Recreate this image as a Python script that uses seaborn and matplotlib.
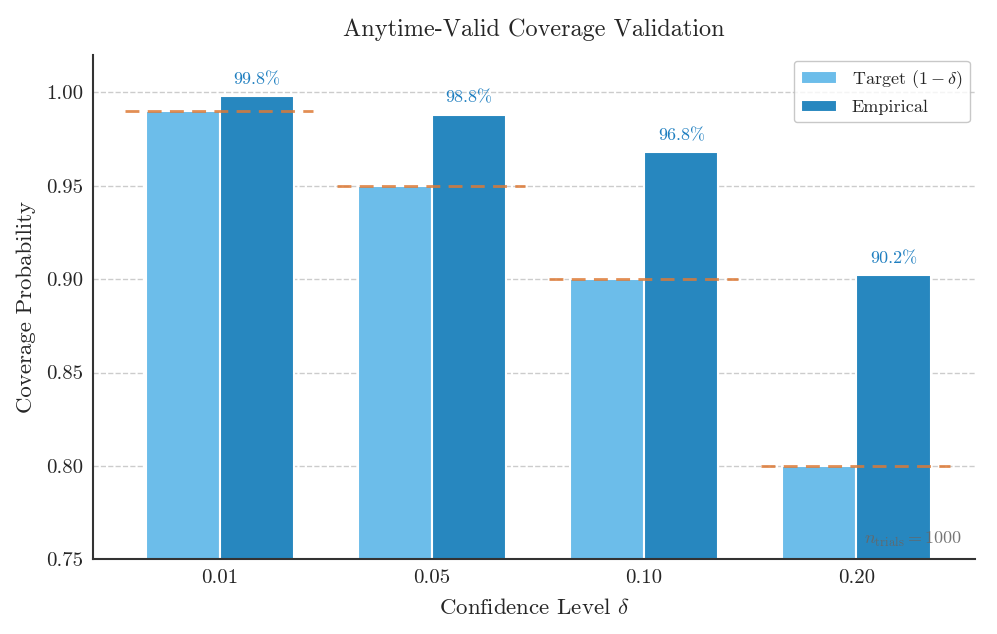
import pandas as pd
import seaborn as sns
import matplotlib.pyplot as plt

# Data
deltas = ["0.01", "0.05", "0.10", "0.20"]
target = [0.99, 0.95, 0.90, 0.80]
empirical = [0.998, 0.988, 0.968, 0.902]
n_trials = 1000

df = pd.DataFrame({
    "delta": deltas * 2,
    "coverage": target + empirical,
    "kind": [r"Target $(1-\delta)$"] * 4 + ["Empirical"] * 4,
})

sns.set_style("white")
plt.rcParams["font.family"] = "serif"
plt.rcParams["font.serif"] = ["cmr10", "DejaVu Serif"]
plt.rcParams["mathtext.fontset"] = "cm"
plt.rcParams["axes.formatter.use_mathtext"] = True

fig = plt.figure(figsize=(9.97, 6.34), dpi=100)
ax = fig.add_axes([0.093, 0.118, 0.885, 0.795])

ax.grid(True, linestyle="--", color="#cccccc", linewidth=1.0)
ax.set_axisbelow(True)

sns.barplot(data=df, x="delta", y="coverage", hue="kind", ax=ax,
            palette=["#6cbdea", "#2787bf"], width=0.7, saturation=1,
            edgecolor="white", linewidth=1.5, errorbar=None)

# target lines
for i, t in enumerate(target):
    ax.hlines(t, i - 0.45, i + 0.44, colors="#dd7a36", linestyles=(0, (5, 3)),
              linewidth=2, alpha=0.85, zorder=3)

# labels over empirical bars
for i, e in enumerate(empirical):
    ax.text(i + 0.175, e + 0.005, f"{e*100:.1f}%", ha="center", va="bottom",
            color="#1f7fc0", fontsize=13)

ax.text(0.985, 0.02, r"$n_{\mathrm{trials}} = $" + f"{n_trials}", transform=ax.transAxes,
        ha="right", va="bottom", color="#666666", alpha=0.9, fontsize=13)

ax.set_ylim(0.75, 1.02)
ax.set_xlim(-0.6, 3.56)
ax.set_yticks([0.75, 0.80, 0.85, 0.90, 0.95, 1.00])
ax.set_yticklabels([f"{v:.2f}" for v in [0.75, 0.80, 0.85, 0.90, 0.95, 1.00]])
ax.tick_params(labelsize=15)
ax.set_xlabel(r"Confidence Level $\delta$", fontsize=16.5, labelpad=8)
ax.set_ylabel("Coverage Probability", fontsize=16.5, labelpad=7)
ax.set_title("Anytime-Valid Coverage Validation", fontsize=17.5, pad=14)

for s in ["top", "right"]:
    ax.spines[s].set_visible(False)
for s in ["left", "bottom"]:
    ax.spines[s].set_color("#333333")
    ax.spines[s].set_linewidth(1.5)

leg = ax.legend(loc="upper right", fontsize=13, frameon=True, fancybox=True,
                edgecolor="#bbbbbb", title=None, borderaxespad=0.3)

fig.savefig("out.png", dpi=100)
